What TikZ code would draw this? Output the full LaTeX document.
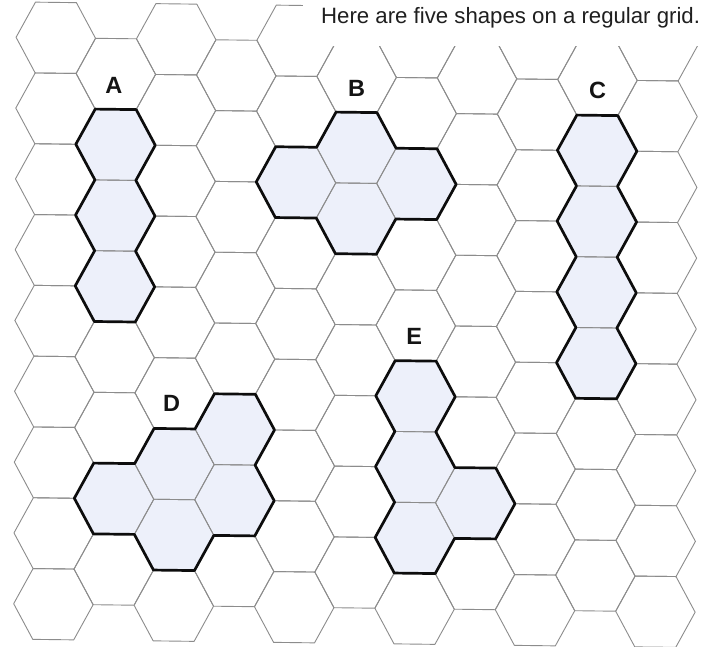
\documentclass[tikz,border=0pt]{standalone}
\usepackage{fontspec}
\setmainfont{Liberation Sans}
\definecolor{gridgray}{RGB}{140,140,140}
\definecolor{lav}{RGB}{237,240,250}
\begin{document}
\begin{tikzpicture}[x=1pt,y=-1pt,
  gridline/.style={draw=gridgray, line width=0.9pt, line join=round},
  shapefill/.style={fill=lav},
  outline/.style={draw=black!95, line width=2.7pt, line join=round},
  lbl/.style={font=\fontsize{23.5}{28}\selectfont\bfseries, inner sep=0pt, text=black!92},
  title/.style={font=\fontsize{22.2}{26}\selectfont, inner sep=0pt, anchor=base west, text=black!88}]
\useasboundingbox (0,0) rectangle (709,647);
\fill[white] (0,0) rectangle (709,647);
\begin{scope}
\clip (0,0) rectangle (709,647);
\begin{scope}[shift={(55.8,37.8)}, x={(60.2pt,-0.75pt)}, y={(-0.3pt,-70.8pt)}]
  % fills of the five shapes
  \foreach \i/\j in {1/1,1/2,1/3, 5/1,4/2,6/2,5/2, 9/1,9/2,9/3,9/4, 3/5,2/6,1/6,3/6,2/7, 6/5,6/6,6/7,7/6}{
    \pgfmathsetmacro\cy{\j+mod(\i,2)*0.5}
    \fill[shapefill, shift={(\i,\cy)}] (0.66,0) -- (0.34,0.5) -- (-0.34,0.5) -- (-0.66,0) -- (-0.34,-0.5) -- (0.34,-0.5) -- cycle;
  }
  % grid
  \foreach \i in {0,...,10}{
    \pgfmathsetmacro\off{mod(\i,2)*0.5}
    \pgfmathtruncatemacro\jmax{8-mod(\i,2)}
    \foreach \j in {0,...,\jmax}{
      \pgfmathsetmacro\cy{\j+\off}
      \draw[gridline, shift={(\i,\cy)}] (0.66,0) -- (0.34,0.5) -- (-0.34,0.5) -- (-0.66,0) -- (-0.34,-0.5) -- (0.34,-0.5) -- cycle;
    }
  }
  % outlines
  % A
  \draw[outline] (0.66,1) -- (1.34,1) -- (1.66,1.5) -- (1.34,2) -- (1.66,2.5) -- (1.34,3) -- (1.66,3.5) -- (1.34,4) -- (0.66,4) -- (0.34,3.5) -- (0.66,3) -- (0.34,2.5) -- (0.66,2) -- (0.34,1.5) -- cycle;
  % B
  \draw[outline] (4.66,1) -- (5.34,1) -- (5.66,1.5) -- (6.34,1.5) -- (6.66,2) -- (6.34,2.5) -- (5.66,2.5) -- (5.34,3) -- (4.66,3) -- (4.34,2.5) -- (3.66,2.5) -- (3.34,2) -- (3.66,1.5) -- (4.34,1.5) -- cycle;
  % C
  \draw[outline] (8.66,1) -- (9.34,1) -- (9.66,1.5) -- (9.34,2) -- (9.66,2.5) -- (9.34,3) -- (9.66,3.5) -- (9.34,4) -- (9.66,4.5) -- (9.34,5) -- (8.66,5) -- (8.34,4.5) -- (8.66,4) -- (8.34,3.5) -- (8.66,3) -- (8.34,2.5) -- (8.66,2) -- (8.34,1.5) -- cycle;
  % D
  \draw[outline] (2.66,5) -- (3.34,5) -- (3.66,5.5) -- (3.34,6) -- (3.66,6.5) -- (3.34,7) -- (2.66,7) -- (2.34,7.5) -- (1.66,7.5) -- (1.34,7) -- (0.66,7) -- (0.34,6.5) -- (0.66,6) -- (1.34,6) -- (1.66,5.5) -- (2.34,5.5) -- cycle;
  % E
  \draw[outline] (5.66,4.5) -- (6.34,4.5) -- (6.66,5) -- (6.34,5.5) -- (6.66,6) -- (7.34,6) -- (7.66,6.5) -- (7.34,7) -- (6.66,7) -- (6.34,7.5) -- (5.66,7.5) -- (5.34,7) -- (5.66,6.5) -- (5.34,6) -- (5.66,5.5) -- (5.34,5) -- cycle;
\end{scope}
\end{scope}
\fill[white] (303,0) rectangle (709,46);
\node[title] (caption) at (321,24) {Here are five shapes on a regular grid.};
\node[lbl] (la) at (113.8,85.8) {A};
\node[lbl] (lb) at (356.7,88.3) {B};
\node[lbl] (lc) at (597.5,90.8) {C};
\node[lbl] (ld) at (171.7,403.7) {D};
\node[lbl] (le) at (414.2,336.7) {E};
\end{tikzpicture}
\end{document}
